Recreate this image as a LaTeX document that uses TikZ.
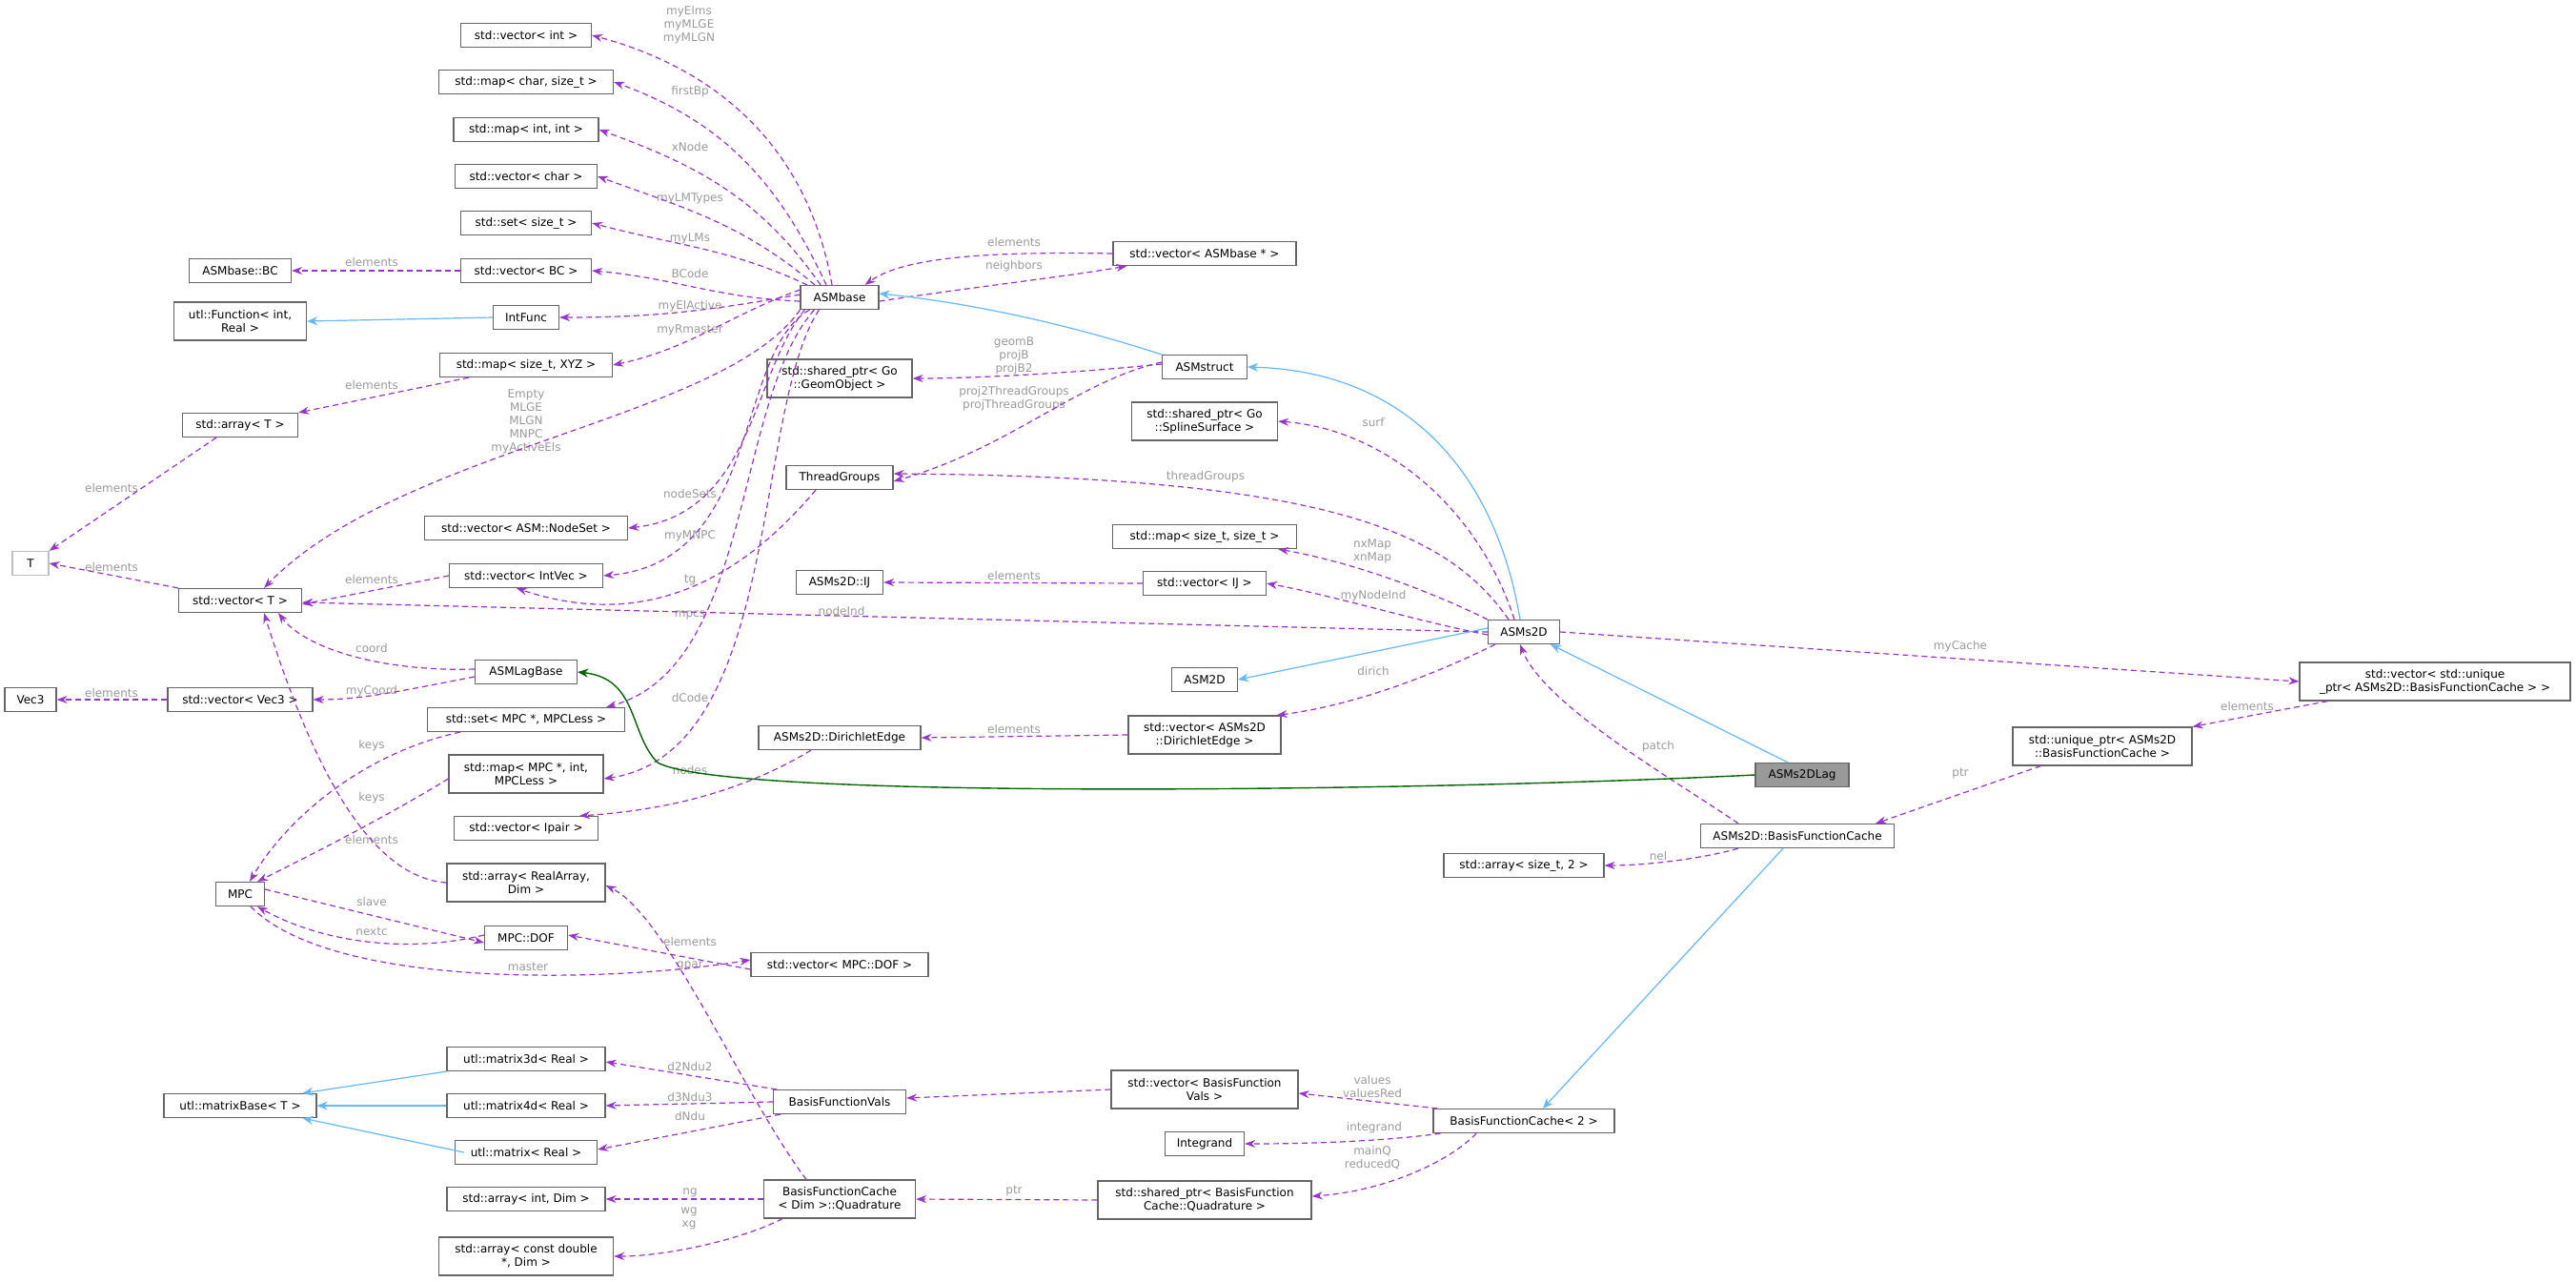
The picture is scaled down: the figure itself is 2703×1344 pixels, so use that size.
\documentclass[tikz,border=0pt]{standalone}
\usepackage{fontspec}
\setmainfont{DejaVu Sans}
\usetikzlibrary{arrows.meta}
\definecolor{mem}{HTML}{9A32CD}
\definecolor{inh}{HTML}{63B8FF}
\definecolor{grn}{HTML}{006400}
\definecolor{lbl}{HTML}{9A9A9A}
\definecolor{bord}{HTML}{666666}
\newcommand\bx[6]{\node[box,minimum width=#4pt,minimum height=#5pt] (#1) at (#2,#3) {#6};}
\newcommand\lb[4]{\node[lab] (#1) at (#2,#3) {#4};}
\begin{document}
\begin{tikzpicture}[x=1pt,y=-1pt,
  box/.style={draw=bord,line width=1.2pt,fill=white,inner sep=0pt,align=center,font=\fontsize{12}{14}\selectfont},
  lab/.style={text=lbl,align=center,inner sep=0pt,font=\fontsize{12}{14}\selectfont},
  m/.style={draw=mem,line width=1.2pt,dash pattern=on 6pt off 4pt,-{Stealth[length=11pt,width=8pt]}},
  ih/.style={draw=inh,line width=1.2pt,-{Stealth[length=11pt,width=9pt]}},
  gr/.style={draw=grn,line width=1.4pt,-{Stealth[length=11pt,width=9pt]}}]
\useasboundingbox (0,0) rectangle (2703,1344);
% nodes
\bx{vint}{552}{37}{137}{25}{std::vector< int >}
\bx{mapchar}{552}{86}{183}{25}{std::map< char, size\_t >}
\bx{mapint}{552}{136}{152}{25}{std::map< int, int >}
\bx{vchar}{552}{185}{149}{25}{std::vector< char >}
\bx{setsz}{552}{234}{137}{25}{std::set< size\_t >}
\bx{vbc}{552}{284}{137}{25}{std::vector< BC >}
\bx{bc}{252}{284}{107}{25}{ASMbase::BC}
\bx{func}{252}{337}{139}{40}{utl::Function< int,\\Real >}
\bx{intfunc}{552}{333}{69}{25}{IntFunc}
\bx{asmbase}{881}{312}{82}{25}{ASMbase}
\bx{mapxyz}{552}{383}{181}{25}{std::map< size\_t, XYZ >}
\bx{arrT}{252}{446}{121}{25}{std::array< T >}
\bx{geom}{881}{397}{152}{40}{std::shared\_ptr< Go\\::GeomObject >}
\bx{tgrp}{881}{501}{112}{25}{ThreadGroups}
\node[box,draw=gray!50,minimum width=38pt,minimum height=25pt] (T) at (32,591) {T};
\bx{vns}{552}{554}{213}{25}{std::vector< ASM::NodeSet >}
\bx{vintvec}{552}{604}{161}{25}{std::vector< IntVec >}
\bx{ij}{881}{611}{91}{25}{ASMs2D::IJ}
\bx{vecT}{252}{630}{129}{25}{std::vector< T >}
\bx{lagbase}{552}{705}{107}{25}{ASMLagBase}
\bx{vec3}{32}{734}{54}{25}{Vec3}
\bx{vvec3}{252}{734}{152}{25}{std::vector< Vec3 >}
\bx{setmpc}{552}{755}{207}{25}{std::set< MPC *, MPCLess >}
\bx{mapmpc}{552}{812}{162}{40}{std::map< MPC *, int,\\MPCLess >}
\bx{de}{881}{774}{170}{25}{ASMs2D::DirichletEdge}
\bx{vipair}{552}{869}{151}{25}{std::vector< Ipair >}
\bx{arrra}{552}{926}{166}{40}{std::array< RealArray,\\Dim >}
\bx{mpc}{252}{938}{51}{25}{MPC}
\bx{dof}{552}{984}{87}{25}{MPC::DOF}
\bx{vdof}{881}{1012}{186}{25}{std::vector< MPC::DOF >}
\bx{m3d}{552}{1111}{166}{25}{utl::matrix3d< Real >}
\bx{mbase}{252}{1160}{160}{25}{utl::matrixBase< T >}
\bx{m4d}{552}{1160}{166}{25}{utl::matrix4d< Real >}
\bx{bfv}{881}{1156}{139}{25}{BasisFunctionVals}
\bx{mat}{552}{1209}{149}{25}{utl::matrix< Real >}
\bx{arrint}{552}{1258}{166}{25}{std::array< int, Dim >}
\bx{quad}{881}{1258}{159}{40}{BasisFunctionCache\\< Dim >::Quadrature}
\bx{arrcd}{552}{1318}{183}{40}{std::array< const double\\*, Dim >}
\bx{vasmb}{1264}{266}{192}{25}{std::vector< ASMbase * >}
\bx{asmstruct}{1264}{385}{89}{25}{ASMstruct}
\bx{spline}{1264}{442}{153}{40}{std::shared\_ptr< Go\\::SplineSurface >}
\bx{mapsz}{1264}{563}{193}{25}{std::map< size\_t, size\_t >}
\bx{vij}{1264}{612}{129}{25}{std::vector< IJ >}
\bx{asms2d}{1599}{663}{75}{25}{ASMs2D}
\bx{asm2d}{1264}{713}{69}{25}{ASM2D}
\bx{vde}{1264}{771}{160}{40}{std::vector< ASMs2D\\::DirichletEdge >}
\node[box,fill=gray!80,minimum width=98pt,minimum height=25pt] (lag) at (1891,813) {ASMs2DLag};
\bx{bfc}{1886}{877}{203}{25}{ASMs2D::BasisFunctionCache}
\bx{vup}{2555}{715}{284}{40}{std::vector< std::unique\\\_ptr< ASMs2D::BasisFunctionCache > >}
\bx{up}{2206}{783}{188}{40}{std::unique\_ptr< ASMs2D\\::BasisFunctionCache >}
\bx{arrsz}{1599}{908}{168}{25}{std::array< size\_t, 2 >}
\bx{vbfv}{1264}{1143}{196}{40}{std::vector< BasisFunction\\Vals >}
\bx{bfc2}{1599}{1176}{190}{25}{BasisFunctionCache< 2 >}
\bx{integ}{1264}{1200}{83}{25}{Integrand}
\bx{spq}{1264}{1259}{224}{40}{std::shared\_ptr< BasisFunction\\Cache::Quadrature >}
% labels
\lb{l1}{723}{26}{myElms\\myMLGE\\myMLGN}
\lb{l2}{724}{96}{firstBp}
\lb{l3}{724}{154}{xNode}
\lb{l4}{724}{208}{myLMTypes}
\lb{l5}{724}{250}{myLMs}
\lb{l6}{724}{287}{BCode}
\lb{l7}{390}{275}{elements}
\lb{l8}{724}{321}{myElActive}
\lb{l9}{724}{346}{myRmaster}
\lb{l10}{390}{404}{elements}
\lb{l11}{552}{442}{Empty\\MLGE\\MLGN\\MNPC\\myActiveEls}
\lb{l12}{117}{512}{elements}
\lb{l13}{724}{518}{nodeSets}
\lb{l14}{724}{562}{myMNPC}
\lb{l15}{117}{595}{elements}
\lb{l16}{390}{608}{elements}
\lb{l17}{724}{609}{tg}
\lb{l18}{724}{645}{mpcs}
\lb{l19}{883}{641}{nodeInd}
\lb{l20}{390}{680}{coord}
\lb{l21}{390}{725}{myCoord}
\lb{l22}{117}{727}{elements}
\lb{l23}{724}{732}{dCode}
\lb{l24}{390}{782}{keys}
\lb{l25}{724}{808}{nodes}
\lb{l26}{390}{837}{keys}
\lb{l27}{390}{881}{elements}
\lb{l28}{390}{946}{slave}
\lb{l29}{390}{977}{nextc}
\lb{l30}{724}{988}{elements}
\lb{l31}{724}{1013}{gpar}
\lb{l32}{554}{1014}{master}
\lb{l33}{724}{1119}{d2Ndu2}
\lb{l34}{724}{1151}{d3Ndu3}
\lb{l35}{724}{1171}{dNdu}
\lb{l36}{724}{1251}{ng}
\lb{l37}{723}{1278}{wg\\xg}
\lb{l38}{1064}{254}{elements}
\lb{l39}{1064}{279}{neighbors}
\lb{l40}{1064}{373}{geomB\\projB\\projB2}
\lb{l41}{1064}{418}{proj2ThreadGroups\\projThreadGroups}
\lb{l42}{1441}{443}{surf}
\lb{l43}{1265}{500}{threadGroups}
\lb{l44}{1440}{578}{nxMap\\xnMap}
\lb{l45}{1064}{604}{elements}
\lb{l46}{1441}{625}{myNodeInd}
\lb{l47}{1441}{704}{dirich}
\lb{l48}{1064}{765}{elements}
\lb{l49}{1740}{783}{patch}
\lb{l50}{2057}{678}{myCache}
\lb{l51}{2358}{741}{elements}
\lb{l52}{2057}{812}{ptr}
\lb{l53}{1740}{898}{nel}
\lb{l54}{1440}{1140}{values\\valuesRed}
\lb{l55}{1442}{1183}{integrand}
\lb{l56}{1440}{1215}{mainQ\\reducedQ}
\lb{l57}{1064}{1250}{ptr}
% edges from ASMbase
\draw[m] ([xshift=-8pt]asmbase.north) to[out=100,in=-15] (vint.east);
\draw[m] ([xshift=-14pt]asmbase.north) to[out=115,in=-20] (mapchar.east);
\draw[m] ([xshift=-20pt]asmbase.north) to[out=125,in=-20] (mapint.east);
\draw[m] ([xshift=-26pt]asmbase.north) to[out=140,in=-20] (vchar.east);
\draw[m] ([xshift=-34pt]asmbase.north) to[out=155,in=-15] (setsz.east);
\draw[m] ([yshift=-4pt]asmbase.west) to[out=178,in=-5] (vbc.east);
\draw[m] (vbc.west) -- (bc.east);
\draw[ih] (intfunc.west) -- (func.east);
\draw[m] ([yshift=3pt]asmbase.west) to[out=190,in=0] (intfunc.east);
\draw[m] ([yshift=8pt]asmbase.west) to[out=200,in=12] (mapxyz.east);
\draw[m] ([xshift=-60pt]mapxyz.south) -- (arrT.north east);
\draw[m] ([xshift=-25pt]arrT.south) -- (T.north east);
\draw[m] (vecT.north west) -- (T.east);
\draw[m] (asmbase.south west) .. controls (760,440) and (420,470) .. ([xshift=25pt]vecT.north);
\draw[m] ([xshift=5pt]asmbase.south west) .. controls (790,390) and (790,540) .. (vns.east);
\draw[m] ([xshift=10pt]asmbase.south west) .. controls (770,370) and (800,590) .. (vintvec.east);
\draw[m] (vintvec.west) -- ([yshift=-4pt]vecT.east);
\draw[m] ([xshift=-25pt]tgrp.south) .. controls (800,580) and (700,670) .. ([xshift=-10pt]vintvec.south);
\draw[m] ([xshift=15pt]asmbase.south west) .. controls (770,420) and (790,700) .. ([xshift=-20pt]setmpc.north east);
\draw[m] ([xshift=20pt]asmbase.south west) .. controls (790,430) and (820,790) .. ([yshift=-5pt]mapmpc.east);
\draw[m] (vasmb.west) .. controls (1050,264) and (950,268) .. ([xshift=-15pt]asmbase.north east);
\draw[m] ([yshift=-4pt]asmbase.east) .. controls (1030,300) and (1120,290) .. ([xshift=15pt]vasmb.south west);
\draw[ih] (asmstruct.north west) .. controls (1120,340) and (1020,318) .. ([yshift=4pt]asmbase.east);
\draw[m] ([yshift=3pt]asmstruct.west) .. controls (1120,392) and (1020,397) .. (geom.east);
\draw[m] ([yshift=5pt]asmstruct.west) .. controls (1130,400) and (1060,470) .. ([yshift=-4pt]tgrp.east);
\draw[ih] ([xshift=-4pt]asms2d.north) .. controls (1570,500) and (1480,390) .. (asmstruct.east);
\draw[m] ([xshift=-10pt]asms2d.north) .. controls (1550,530) and (1450,450) .. (spline.east);
\draw[m] ([xshift=-16pt]asms2d.north) .. controls (1520,560) and (1400,500) .. ([yshift=4pt]tgrp.east);
\draw[m] (asms2d.north west) .. controls (1500,620) and (1420,590) .. ([xshift=-20pt]mapsz.south east);
\draw[m] ([yshift=-3pt]asms2d.west) .. controls (1480,650) and (1400,625) .. (vij.east);
\draw[m] (vij.west) -- (ij.east);
\draw[m] (asms2d.west) -- ([yshift=-2pt]vecT.east);
\draw[ih] ([yshift=4pt]asms2d.west) -- (asm2d.east);
\draw[m] ([xshift=8pt]asms2d.south west) .. controls (1500,710) and (1420,740) .. ([xshift=-5pt]vde.north east);
\draw[m] (vde.west) -- (de.east);
\draw[m] ([xshift=-30pt]de.south) .. controls (780,830) and (700,850) .. ([xshift=-20pt]vipair.north east);
\draw[m] (asms2d.east) -- (vup.west);
\draw[m] ([xshift=30pt]vup.south west) -- (up.north east);
\draw[m] ([xshift=30pt]up.south west) -- ([xshift=-20pt]bfc.north east);
\draw[m] ([xshift=40pt]bfc.north west) .. controls (1760,820) and (1620,740) .. ([xshift=-4pt]asms2d.south);
\draw[ih] ([xshift=-15pt]lag.north) -- ([xshift=-10pt]asms2d.south east);
\draw[gr] (lag.west) .. controls (1500,830) and (760,840) .. (690,800) .. controls (660,770) and (670,712) .. (lagbase.east);
\draw[m] ([xshift=40pt]bfc.south west) .. controls (1790,900) and (1730,908) .. (arrsz.east);
\draw[ih] ([xshift=-15pt]bfc.south) -- ([xshift=20pt]bfc2.north);
\draw[m] ([xshift=5pt]bfc2.north west) -- ([yshift=-4pt]vbfv.east);
\draw[m] ([xshift=8pt]bfc2.south west) .. controls (1470,1195) and (1400,1200) .. (integ.east);
\draw[m] ([xshift=-50pt]bfc2.south) .. controls (1520,1220) and (1450,1250) .. ([yshift=4pt]spq.east);
\draw[m] (spq.west) -- (quad.east);
\draw[m] (vbfv.west) -- ([yshift=4pt]bfv.east);
\draw[m] ([xshift=4pt]bfv.north west) -- ([yshift=-3pt]m3d.east);
\draw[m] (bfv.west) -- (m4d.east);
\draw[m] ([xshift=8pt]bfv.south west) -- ([yshift=3pt]mat.east);
\draw[ih] (m3d.south west) -- ([xshift=-15pt]mbase.north east);
\draw[ih] (m4d.west) -- (mbase.east);
\draw[ih] ([xshift=10pt]mat.west) -- ([xshift=-15pt]mbase.south east);
\draw[m] (quad.west) -- (arrint.east);
\draw[m] ([xshift=20pt]quad.south west) .. controls (780,1300) and (700,1318) .. (arrcd.east);
\draw[m] ([xshift=-35pt]quad.north) .. controls (780,1150) and (700,960) .. ([yshift=-3pt]arrra.east);
\draw[m] (arrra.west) .. controls (380,920) and (320,780) .. ([xshift=25pt]vecT.south);
\draw[m] ([yshift=3pt]lagbase.west) .. controls (400,705) and (320,680) .. ([xshift=40pt]vecT.south);
\draw[m] ([yshift=-5pt]lagbase.west) .. controls (420,725) and (380,734) .. (vvec3.east);
\draw[m] (vvec3.west) -- (vec3.east);
\draw[m] ([xshift=35pt]setmpc.south west) .. controls (380,790) and (300,860) .. ([xshift=10pt]mpc.north);
\draw[m] ([yshift=-5pt]mapmpc.west) .. controls (400,860) and (320,900) .. ([xshift=-8pt]mpc.north east);
\draw[m] ([yshift=5pt]mpc.east) -- ([yshift=-5pt]dof.west);
\draw[m] ([yshift=3pt]dof.west) .. controls (430,1000) and (340,990) .. ([xshift=-8pt]mpc.south east);
\draw[m] ([xshift=-15pt]mpc.south east) .. controls (350,1040) and (650,1030) .. ([yshift=5pt]vdof.west);
\draw[m] ([yshift=-5pt]vdof.west) -- ([yshift=3pt]dof.east);
\end{tikzpicture}
\end{document}
